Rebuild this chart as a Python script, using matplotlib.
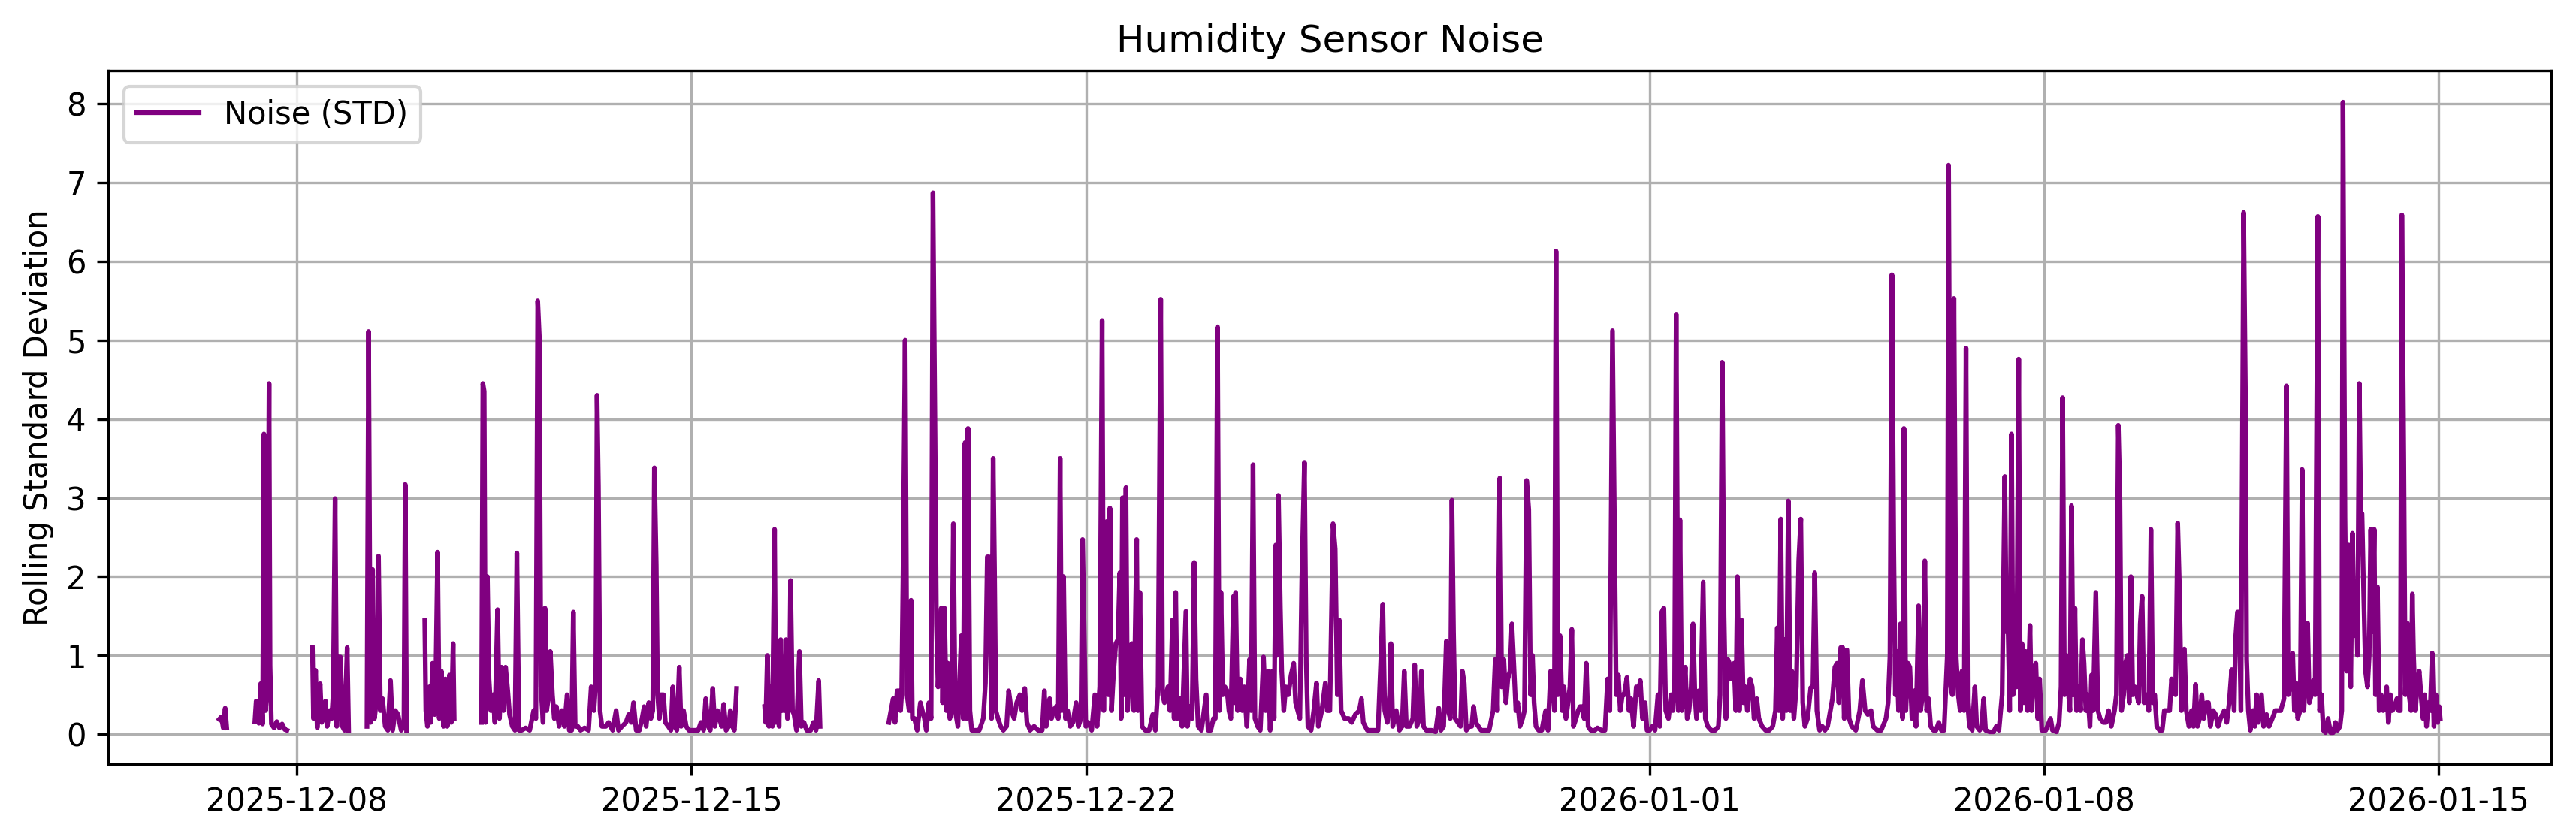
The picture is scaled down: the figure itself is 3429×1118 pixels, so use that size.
import matplotlib
matplotlib.use("Agg")
import matplotlib.pyplot as plt
import matplotlib.dates as mdates
import numpy as np
import pandas as pd

# ---- data: (days since 2025-12-08 00:00, rolling std) per recording segment ----
base_date = "2025-12-08"

seg0 = [(-1.379, 0.19), (-1.341, 0.22), (-1.307, 0.08), (-1.274, 0.33), (-1.246, 0.08)]

seg1 = [(-0.747, 0.16), (-0.723, 0.42), (-0.676, 0.14), (-0.643, 0.64), (-0.609, 0.13), (-0.586, 3.81),
        (-0.557, 0.30), (-0.524, 0.64), (-0.495, 4.45), (-0.477, 0.87), (-0.453, 0.13), (-0.405, 0.08),
        (-0.358, 0.16), (-0.310, 0.08), (-0.263, 0.13), (-0.215, 0.06), (-0.177, 0.05)]

seg2 = [(0.274, 1.10), (0.293, 0.20), (0.331, 0.81), (0.359, 0.08), (0.411, 0.64), (0.440, 0.15),
        (0.473, 0.25), (0.506, 0.42), (0.535, 0.10), (0.578, 0.30), (0.616, 0.20), (0.644, 0.53),
        (0.677, 2.99), (0.706, 0.10), (0.739, 0.98), (0.755, 0.20), (0.772, 0.98), (0.806, 0.10),
        (0.844, 0.05), (0.891, 1.10), (0.917, 0.05)]

seg3 = [(1.242, 0.10), (1.271, 5.11), (1.304, 0.15), (1.342, 2.09), (1.375, 0.20), (1.423, 0.50),
        (1.447, 2.26), (1.480, 0.30), (1.518, 0.45), (1.566, 0.10), (1.613, 0.05), (1.660, 0.68),
        (1.698, 0.05), (1.746, 0.30), (1.793, 0.25), (1.850, 0.05), (1.898, 0.10), (1.921, 3.17),
        (1.945, 0.05)]

seg4 = [(2.268, 1.44), (2.287, 0.30), (2.316, 0.10), (2.349, 0.60), (2.373, 0.15), (2.406, 0.90),
        (2.444, 0.25), (2.468, 0.90), (2.496, 2.31), (2.525, 0.20), (2.563, 0.80), (2.600, 0.10),
        (2.634, 0.70), (2.667, 0.10), (2.705, 0.75), (2.738, 0.15), (2.771, 1.15), (2.790, 0.20)]

seg5 = [(3.275, 0.15), (3.299, 4.45), (3.322, 4.35), (3.346, 0.15), (3.379, 2.00), (3.408, 0.70),
        (3.441, 0.30), (3.479, 0.50), (3.512, 0.15), (3.560, 1.58), (3.593, 0.20), (3.631, 0.85),
        (3.664, 0.30), (3.702, 0.85), (3.740, 0.55), (3.773, 0.25), (3.821, 0.10), (3.868, 0.05),
        (3.902, 2.30), (3.940, 0.05), (3.987, 0.05), (4.058, 0.08), (4.129, 0.05), (4.200, 0.30),
        (4.239, 0.20), (4.272, 5.50), (4.300, 5.05), (4.329, 0.60), (4.367, 0.15), (4.400, 1.60),
        (4.429, 0.30), (4.462, 0.45), (4.495, 1.05), (4.533, 0.50), (4.566, 0.20), (4.604, 0.35),
        (4.652, 0.10), (4.699, 0.30), (4.747, 0.10), (4.794, 0.50), (4.832, 0.05), (4.875, 0.05),
        (4.904, 1.55), (4.937, 0.10), (4.984, 0.10), (5.032, 0.05), (5.103, 0.08), (5.174, 0.05),
        (5.221, 0.60), (5.269, 0.30), (5.302, 0.65), (5.325, 4.30), (5.349, 3.15), (5.378, 0.30),
        (5.411, 0.10), (5.482, 0.10), (5.530, 0.15), (5.601, 0.05), (5.663, 0.30), (5.705, 0.05),
        (5.767, 0.10), (5.838, 0.15), (5.886, 0.25), (5.933, 0.15), (5.971, 0.40), (6.019, 0.05),
        (6.076, 0.05), (6.123, 0.20), (6.161, 0.35), (6.195, 0.10), (6.242, 0.40), (6.280, 0.20),
        (6.313, 0.30), (6.342, 3.38), (6.375, 2.15), (6.399, 0.50), (6.432, 0.20), (6.456, 0.50),
        (6.503, 0.50), (6.537, 0.15), (6.589, 0.10), (6.636, 0.05), (6.669, 0.60), (6.703, 0.10),
        (6.741, 0.05), (6.783, 0.85), (6.817, 0.10), (6.859, 0.30), (6.907, 0.10), (6.954, 0.05),
        (7.002, 0.05), (7.049, 0.05), (7.120, 0.05), (7.168, 0.15), (7.215, 0.05), (7.253, 0.45),
        (7.296, 0.10), (7.334, 0.05), (7.377, 0.58), (7.415, 0.10), (7.462, 0.30), (7.500, 0.20),
        (7.534, 0.10), (7.572, 0.38), (7.614, 0.05), (7.662, 0.10), (7.690, 0.30), (7.728, 0.10),
        (7.761, 0.05), (7.800, 0.58)]

seg6 = [(8.298, 0.35), (8.317, 0.15), (8.346, 1.00), (8.374, 0.10), (8.403, 0.60), (8.436, 0.10),
        (8.474, 2.60), (8.498, 0.15), (8.526, 0.95), (8.554, 0.10), (8.583, 1.20), (8.616, 0.30),
        (8.640, 0.95), (8.660, 0.30), (8.678, 1.20), (8.702, 0.20), (8.735, 0.40), (8.758, 1.95),
        (8.792, 0.30), (8.820, 0.25), (8.863, 0.05), (8.915, 1.05), (8.949, 0.10), (8.996, 0.15),
        (9.044, 0.05), (9.115, 0.05), (9.162, 0.15), (9.210, 0.05), (9.257, 0.68), (9.281, 0.10)]

seg7_dec19 = [(10.501, 0.15), (10.539, 0.30), (10.578, 0.45), (10.611, 0.15), (10.649, 0.55), (10.682, 0.55),
              (10.710, 0.30), (10.729, 0.50), (10.753, 2.00), (10.791, 5.00), (10.824, 0.50), (10.862, 0.30),
              (10.896, 1.70), (10.919, 0.20), (10.957, 0.20), (11.004, 0.05), (11.062, 0.40), (11.095, 0.30),
              (11.133, 0.20), (11.166, 0.05), (11.213, 0.40), (11.252, 0.20), (11.285, 6.87), (11.322, 3.75),
              (11.346, 1.40), (11.375, 0.60), (11.404, 1.05), (11.432, 1.60), (11.456, 0.40), (11.489, 1.60),
              (11.522, 0.30), (11.550, 0.90), (11.584, 0.20), (11.617, 0.50), (11.646, 2.67), (11.679, 0.30),
              (11.727, 0.10), (11.788, 1.25), (11.821, 0.20), (11.854, 3.70), (11.883, 0.20), (11.907, 3.88),
              (11.940, 0.30), (11.973, 0.05), (12.035, 0.05), (12.106, 0.05), (12.178, 0.20), (12.216, 0.65),
              (12.249, 2.25), (12.278, 2.25), (12.297, 1.50), (12.325, 0.20), (12.353, 3.50), (12.377, 2.10),
              (12.401, 0.30), (12.439, 0.20), (12.486, 0.10), (12.534, 0.05), (12.591, 0.10), (12.629, 0.55),
              (12.676, 0.30)]

seg7_dec21 = [(12.724, 0.20), (12.771, 0.40), (12.828, 0.50), (12.866, 0.30), (12.914, 0.58), (12.952, 0.15),
              (13.009, 0.05), (13.080, 0.10), (13.151, 0.05), (13.223, 0.05), (13.261, 0.55), (13.294, 0.10),
              (13.356, 0.45), (13.389, 0.20), (13.427, 0.30), (13.470, 0.35), (13.508, 0.20), (13.541, 3.50),
              (13.570, 0.30), (13.603, 2.00), (13.636, 0.20), (13.674, 0.30), (13.721, 0.10), (13.769, 0.15),
              (13.826, 0.40), (13.864, 0.10), (13.911, 0.20), (13.940, 2.47), (13.968, 1.30), (13.997, 0.10),
              (14.044, 0.15), (14.101, 0.05), (14.158, 0.50), (14.196, 0.10), (14.244, 0.60), (14.286, 5.25),
              (14.315, 0.30), (14.339, 2.65), (14.372, 2.70), (14.396, 0.50), (14.424, 2.87), (14.453, 0.30),
              (14.491, 0.80), (14.529, 1.15), (14.567, 1.20), (14.600, 2.05), (14.624, 0.20), (14.647, 3.00),
              (14.681, 0.50), (14.709, 3.13), (14.737, 0.30), (14.775, 0.80), (14.813, 1.15), (14.851, 0.30),
              (14.899, 2.47), (14.922, 0.30), (14.956, 1.80), (14.994, 0.10), (15.051, 0.05), (15.122, 0.05),
              (15.184, 0.25), (15.231, 0.05), (15.279, 0.60), (15.326, 5.52), (15.359, 0.50), (15.393, 0.40),
              (15.454, 0.60), (15.492, 0.30), (15.535, 1.45), (15.564, 0.20), (15.592, 1.80), (15.621, 0.20),
              (15.668, 0.45), (15.706, 0.10), (15.773, 1.56), (15.801, 0.10), (15.834, 0.35), (15.882, 0.20),
              (15.920, 2.18), (15.953, 0.70), (15.991, 0.10), (16.048, 0.05), (16.133, 0.50), (16.167, 0.05),
              (16.214, 0.05), (16.262, 0.20), (16.295, 0.20), (16.333, 5.17), (16.366, 0.30), (16.395, 1.80),
              (16.428, 0.50), (16.466, 0.60), (16.504, 0.55), (16.537, 0.30), (16.570, 0.20), (16.618, 1.75),
              (16.637, 0.40), (16.656, 1.80), (16.689, 0.30), (16.737, 0.70), (16.774, 0.30), (16.808, 0.60),
              (16.855, 0.10), (16.903, 0.95), (16.931, 0.30), (16.964, 3.42), (16.998, 0.20), (17.045, 0.10),
              (17.093, 0.05), (17.150, 0.98), (17.188, 0.30), (17.235, 0.80), (17.268, 0.05), (17.306, 0.80),
              (17.339, 0.20), (17.368, 2.40), (17.390, 1.00), (17.415, 3.03), (17.449, 1.60), (17.473, 0.80),
              (17.510, 0.30), (17.544, 0.60), (17.591, 0.50), (17.639, 0.75), (17.686, 0.90), (17.719, 0.40),
              (17.757, 0.30), (17.795, 0.20), (17.829, 1.95), (17.876, 3.45), (17.909, 0.90), (17.938, 0.10),
              (17.995, 0.05), (18.042, 0.30), (18.090, 0.65), (18.123, 0.10), (18.185, 0.30), (18.247, 0.65),
              (18.280, 0.30), (18.327, 0.30), (18.384, 2.67), (18.422, 2.35), (18.460, 0.50), (18.493, 1.45),
              (18.527, 0.30), (18.589, 0.20), (18.660, 0.20), (18.717, 0.15), (18.778, 0.25), (18.850, 0.30),
              (18.888, 0.45), (18.921, 0.15), (18.992, 0.05), (19.087, 0.05), (19.182, 0.05), (19.229, 0.90),
              (19.267, 1.65), (19.301, 0.30), (19.348, 0.15), (19.386, 0.50), (19.410, 1.15), (19.443, 0.10),
              (19.505, 0.30), (19.562, 0.05), (19.609, 0.10), (19.647, 0.80), (19.685, 0.10), (19.742, 0.10),
              (19.799, 0.20), (19.832, 0.88), (19.870, 0.10), (19.918, 0.20), (19.951, 0.80), (19.989, 0.10)]

seg7_dec28 = [(20.037, 0.05), (20.132, 0.05), (20.203, 0.03), (20.260, 0.33), (20.298, 0.05), (20.346, 0.10),
              (20.393, 1.18), (20.426, 0.30), (20.464, 0.20), (20.493, 2.97), (20.521, 1.30), (20.550, 0.20),
              (20.597, 0.15), (20.645, 0.10), (20.678, 0.80), (20.711, 0.65), (20.749, 0.05), (20.797, 0.10),
              (20.844, 0.10), (20.877, 0.35), (20.915, 0.15), (20.963, 0.10), (21.010, 0.05), (21.082, 0.05),
              (21.153, 0.05), (21.224, 0.30), (21.262, 0.95), (21.300, 0.30), (21.343, 3.25), (21.376, 0.60),
              (21.414, 0.95), (21.452, 0.40), (21.485, 0.70), (21.523, 0.80), (21.557, 1.40), (21.590, 0.90),
              (21.628, 0.30), (21.661, 0.40), (21.699, 0.10), (21.747, 0.20), (21.780, 0.30), (21.818, 3.22),
              (21.856, 2.85), (21.889, 0.50), (21.922, 1.00), (21.951, 0.40), (21.984, 0.10), (22.031, 0.05),
              (22.088, 0.05), (22.126, 0.20), (22.159, 0.30), (22.198, 0.05), (22.245, 0.80), (22.278, 0.80),
              (22.311, 0.30), (22.340, 6.13), (22.373, 0.50), (22.411, 1.25), (22.449, 0.30), (22.482, 0.60),
              (22.516, 0.20), (22.554, 0.40), (22.587, 0.60), (22.620, 1.33), (22.649, 0.10), (22.696, 0.20),
              (22.734, 0.30), (22.767, 0.35), (22.801, 0.35), (22.839, 0.20), (22.877, 0.90), (22.910, 0.10),
              (22.958, 0.05), (23.029, 0.05), (23.076, 0.08), (23.147, 0.05), (23.209, 0.05), (23.256, 0.70),
              (23.295, 0.30), (23.342, 5.12), (23.380, 2.40), (23.408, 0.50), (23.446, 0.75), (23.480, 0.30),
              (23.518, 0.50), (23.551, 0.50), (23.599, 0.72), (23.636, 0.30), (23.670, 0.45), (23.717, 0.10),
              (23.765, 0.60), (23.798, 0.50), (23.836, 0.68), (23.874, 0.20), (23.921, 0.40), (23.955, 0.05),
              (24.002, 0.05), (24.049, 0.10), (24.097, 0.05), (24.149, 0.50), (24.182, 0.10), (24.216, 1.55),
              (24.254, 1.60), (24.287, 0.30), (24.335, 0.20), (24.382, 0.50), (24.415, 0.30), (24.444, 0.60),
              (24.472, 5.33), (24.510, 0.30), (24.539, 2.72), (24.572, 0.30), (24.606, 0.50), (24.634, 0.85),
              (24.667, 0.20), (24.700, 0.30), (24.738, 0.60), (24.771, 1.40), (24.804, 0.50), (24.833, 0.20),
              (24.871, 0.55), (24.904, 0.30), (24.951, 1.93), (24.990, 0.20), (25.032, 0.10), (25.094, 0.05),
              (25.165, 0.05), (25.222, 0.10), (25.251, 0.50), (25.289, 4.72), (25.322, 1.50), (25.355, 0.20),
              (25.388, 0.95), (25.417, 0.90), (25.450, 0.70), (25.498, 0.90), (25.531, 0.30), (25.559, 2.00),
              (25.593, 0.30), (25.631, 1.45), (25.664, 0.40), (25.697, 0.60), (25.735, 0.30), (25.783, 0.70),
              (25.821, 0.60), (25.854, 0.20), (25.902, 0.45), (25.939, 0.20), (25.996, 0.10), (26.058, 0.05),
              (26.124, 0.05), (26.186, 0.10), (26.234, 0.30), (26.267, 1.35), (26.295, 0.30), (26.329, 2.73),
              (26.362, 0.20), (26.400, 1.20), (26.428, 0.30), (26.462, 2.96), (26.495, 0.30), (26.524, 0.80),
              (26.561, 0.20), (26.604, 0.60), (26.647, 2.20), (26.684, 2.73), (26.718, 0.40), (26.756, 0.10),
              (26.803, 0.20), (26.860, 0.59), (26.898, 0.60), (26.931, 2.05), (26.969, 0.30), (27.017, 0.05),
              (27.065, 0.10), (27.112, 0.05), (27.159, 0.10), (27.245, 0.45), (27.288, 0.85), (27.326, 0.90),
              (27.359, 0.40), (27.392, 1.10), (27.426, 1.10)]

seg7_jan04 = [(27.454, 0.20), (27.502, 1.07), (27.540, 0.20), (27.587, 0.10), (27.659, 0.05), (27.730, 0.30),
              (27.777, 0.68), (27.825, 0.30), (27.872, 0.25), (27.929, 0.30), (27.967, 0.10), (28.038, 0.05),
              (28.110, 0.05), (28.195, 0.20), (28.233, 0.40), (28.266, 1.00), (28.300, 5.83), (28.333, 2.35),
              (28.361, 0.50), (28.385, 1.05), (28.418, 0.30), (28.452, 1.40), (28.490, 0.20), (28.513, 3.88),
              (28.547, 0.30), (28.585, 0.90), (28.618, 0.85), (28.656, 0.20), (28.694, 0.55), (28.727, 0.10),
              (28.774, 1.63), (28.808, 0.30), (28.846, 0.50), (28.884, 2.20), (28.917, 0.30), (28.950, 0.45),
              (28.988, 0.10), (29.036, 0.05), (29.083, 0.05), (29.131, 0.15), (29.178, 0.05), (29.226, 0.05),
              (29.259, 0.60), (29.283, 1.00), (29.306, 7.22), (29.344, 0.60), (29.373, 0.50), (29.401, 5.53),
              (29.439, 1.00), (29.477, 0.50), (29.511, 0.30), (29.544, 0.80), (29.582, 0.30), (29.615, 4.90),
              (29.643, 0.40), (29.676, 0.10), (29.724, 0.05), (29.772, 0.60), (29.805, 0.10), (29.857, 0.05),
              (29.890, 0.10), (29.928, 0.45), (29.962, 0.05), (30.033, 0.03), (30.104, 0.03), (30.152, 0.10),
              (30.199, 0.05), (30.256, 0.50), (30.303, 3.27), (30.332, 1.30), (30.360, 1.40), (30.389, 0.30),
              (30.422, 3.81), (30.450, 0.50), (30.484, 1.30), (30.512, 0.60), (30.550, 4.76), (30.579, 0.30),
              (30.607, 1.15), (30.641, 0.40), (30.674, 1.05), (30.707, 0.30), (30.750, 1.38), (30.778, 0.30),
              (30.816, 0.80), (30.854, 0.90), (30.887, 0.20), (30.921, 0.70), (30.959, 0.05), (31.030, 0.05),
              (31.115, 0.20), (31.149, 0.05), (31.220, 0.03), (31.267, 0.15), (31.301, 0.60), (31.329, 4.27),
              (31.362, 0.50), (31.396, 1.00), (31.424, 0.60), (31.458, 0.30), (31.486, 2.90), (31.519, 0.50),
              (31.548, 1.60), (31.576, 0.30), (31.610, 0.60), (31.647, 0.30), (31.681, 1.20), (31.709, 0.90),
              (31.742, 0.30), (31.776, 0.50), (31.814, 0.10), (31.842, 0.75), (31.870, 0.30), (31.918, 1.80),
              (31.956, 0.30), (31.994, 0.20), (32.051, 0.15), (32.098, 0.15), (32.146, 0.30), (32.193, 0.10),
              (32.250, 0.30), (32.283, 0.50), (32.317, 3.92), (32.345, 3.07), (32.374, 0.30), (32.412, 0.50),
              (32.445, 0.90), (32.478, 1.00), (32.511, 0.40), (32.540, 2.00), (32.573, 0.50), (32.611, 0.60),
              (32.644, 0.50), (32.677, 0.40), (32.706, 1.40), (32.739, 1.75), (32.772, 0.40), (32.810, 0.50),
              (32.858, 0.30), (32.896, 2.60), (32.929, 0.40), (32.963, 0.50), (33.000, 0.10), (33.048, 0.05),
              (33.096, 0.05), (33.134, 0.30), (33.181, 0.30), (33.228, 0.30), (33.262, 0.70), (33.295, 0.60),
              (33.333, 0.50), (33.371, 2.68), (33.404, 1.80), (33.437, 0.30), (33.490, 1.08), (33.523, 0.30),
              (33.570, 0.10), (33.618, 0.30), (33.651, 0.10), (33.689, 0.63), (33.722, 0.10), (33.760, 0.20),
              (33.798, 0.50), (33.831, 0.20), (33.879, 0.40), (33.917, 0.40), (33.950, 0.10)]

seg7_jan11 = [(34.000, 0.30), (34.044, 0.25), (34.088, 0.10), (34.131, 0.20), (34.197, 0.30), (34.241, 0.15),
              (34.285, 0.40), (34.329, 0.82), (34.373, 0.30), (34.396, 1.20), (34.431, 1.55), (34.462, 1.55),
              (34.493, 0.30), (34.541, 6.62), (34.572, 4.35), (34.594, 0.95), (34.625, 0.30), (34.660, 0.05),
              (34.705, 0.30), (34.740, 0.10), (34.771, 0.50), (34.802, 0.15), (34.859, 0.50), (34.895, 0.10),
              (34.948, 0.25), (34.992, 0.10), (35.049, 0.20), (35.102, 0.30), (35.155, 0.30), (35.199, 0.30),
              (35.257, 0.45), (35.301, 4.42), (35.332, 0.50), (35.367, 0.60), (35.411, 1.03), (35.442, 0.30),
              (35.469, 0.65), (35.500, 0.20), (35.544, 0.30), (35.579, 3.36), (35.610, 0.30), (35.645, 0.80),
              (35.676, 1.41), (35.707, 0.40), (35.743, 0.50), (35.778, 0.68), (35.809, 0.50), (35.858, 6.57),
              (35.889, 0.30), (35.924, 0.50), (35.955, 0.05), (35.994, 0.02), (36.039, 0.20), (36.083, 0.02),
              (36.131, 0.02), (36.171, 0.15), (36.207, 0.05), (36.251, 0.10), (36.282, 0.30), (36.304, 8.02),
              (36.339, 2.75), (36.370, 0.80), (36.405, 2.40), (36.441, 0.60), (36.472, 2.55), (36.504, 1.25),
              (36.539, 1.80), (36.561, 1.00), (36.593, 4.45), (36.619, 2.80), (36.641, 2.80), (36.672, 1.75),
              (36.703, 0.80), (36.738, 0.60), (36.769, 1.00), (36.796, 2.60), (36.827, 1.30), (36.858, 2.60),
              (36.880, 0.50), (36.915, 1.87), (36.946, 0.30), (36.981, 0.50), (37.017, 0.30), (37.048, 0.35),
              (37.079, 0.60), (37.109, 0.15), (37.145, 0.50), (37.180, 0.30), (37.224, 0.35), (37.260, 0.45),
              (37.291, 0.30), (37.322, 0.30), (37.348, 6.59), (37.383, 3.47), (37.410, 0.50), (37.445, 1.41),
              (37.476, 0.50), (37.512, 0.30), (37.534, 1.78), (37.556, 1.00), (37.591, 0.30), (37.622, 0.65),
              (37.657, 0.80), (37.688, 0.50), (37.724, 0.20), (37.755, 0.50), (37.786, 0.10), (37.821, 0.40),
              (37.852, 0.30), (37.887, 1.03), (37.918, 0.10), (37.953, 0.50), (37.984, 0.15), (38.011, 0.35),
              (38.029, 0.20)]

# recording sessions (gaps between them are left blank)
sessions = [seg0, seg1, seg2, seg3, seg4, seg5, seg6,
            seg7_dec19 + seg7_dec21 + seg7_dec28 + seg7_jan04 + seg7_jan11]

tick_labels = ["2025-12-08", "2025-12-15", "2025-12-22", "2026-01-01", "2026-01-08", "2026-01-15"]

# ---- build series with NaN breaks between sessions ----
days, vals = [], []
for i, seg in enumerate(sessions):
    if i > 0:
        days.append((days[-1] + seg[0][0]) / 2.0)
        vals.append(np.nan)
    for d, v in seg:
        days.append(d)
        vals.append(v)

times = pd.Timestamp(base_date) + pd.to_timedelta(np.array(days), unit="D")

fig = plt.figure(figsize=(3429 / 300, 1118 / 300), dpi=300)
ax = fig.add_axes([0.042, 0.0903, 0.9484, 0.8256])
ax.plot(times, vals, color="purple", linewidth=1.5, label="Noise (STD)")
ax.set_title("Humidity Sensor Noise")
ax.set_ylabel("Rolling Standard Deviation")
ax.legend(loc="upper left")
ax.grid(True)
ax.set_xticks(pd.to_datetime(tick_labels))
ax.xaxis.set_major_formatter(mdates.DateFormatter("%Y-%m-%d"))

fig.savefig("out.png", dpi=300)
